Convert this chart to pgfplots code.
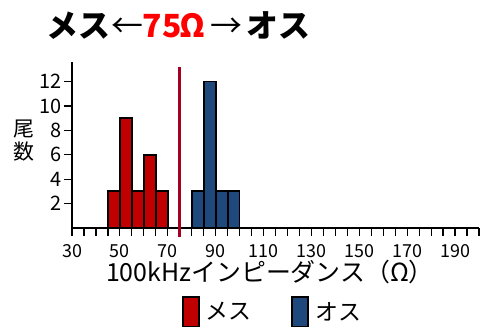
\documentclass[border=0pt]{standalone}
\usepackage{fontspec}
\setmainfont{Noto Sans CJK JP}
\usepackage{pgfplots}
\pgfplotsset{compat=1.18}
\definecolor{fem}{HTML}{C00000}
\definecolor{mal}{HTML}{1F497D}
\definecolor{marker}{HTML}{A50021}
\begin{document}
\begin{tikzpicture}
\path[use as bounding box] (0bp,0bp) rectangle (480bp,327bp);
\begin{scope}[every node/.style={inner sep=0pt, font=\fontsize{32}{32}\selectfont\bfseries}]
\node[anchor=base west] at (46bp,289bp) {メス};
\node[anchor=base, font=\fontsize{32}{32}\selectfont] at (127.5bp,289bp) {←};
\node[anchor=base, text=red] at (162bp,289bp) {75};
\node[anchor=base, text=red] at (192.5bp,289bp) {Ω};
\node[anchor=base, font=\fontsize{32}{32}\selectfont] at (226bp,289bp) {→};
\node[anchor=base west] at (246bp,289bp) {オス};
\end{scope}
\node[align=center, font=\fontsize{21}{23}\selectfont, inner sep=0] at (24bp,186bp) {尾\\数};
\node[font=\fontsize{25}{25}\selectfont, inner sep=0] at (270bp,55bp) {100kHzインピーダンス（Ω）};
\begin{axis}[
 at={(72bp,99bp)}, anchor=south west, scale only axis, width=407bp, height=166bp,
 xmin=30, xmax=200, ymin=0, ymax=13.6,
 axis x line*=bottom, axis y line*=left,
 axis line style={line width=1.2bp, black},
 xtick={30,50,...,190}, minor xtick={35,40,...,200},
 ytick={2,4,...,12},
 tick align=outside, major tick length=8bp, minor tick length=8bp,
 tick style={black, line width=1.2bp},
 /pgf/number format/assume math mode=true,
 xticklabel style={font=\fontsize{18}{18}\selectfont, anchor=base, inner sep=0pt},
 xticklabel shift=21bp,
 yticklabel style={font=\fontsize{20}{20}\selectfont, anchor=east, inner sep=0pt},
 yticklabel shift=2bp,
 clip=false,
 legend columns=2,
 legend style={at={(0.4926,-0.506)}, anchor=center, draw=none, fill=none,
   font=\fontsize{23}{23}\selectfont,
   /tikz/every even column/.append style={column sep=38bp}},
 legend cell align=left,
]
\addplot[ybar, bar width=5, bar shift=0pt, fill=fem, draw=black, line width=1.8bp, forget plot] coordinates {(47.5,3)(52.5,9)(57.5,3)(62.5,6)(67.5,3)};
\addplot[ybar, bar width=5, bar shift=0pt, fill=mal, draw=black, line width=1.8bp, forget plot] coordinates {(82.5,3)(87.5,12)(92.5,3)(97.5,3)};
\addplot[marker, line width=3bp, forget plot] coordinates {(75,-0.7) (75,13.15)};
\addlegendimage{legend image code/.code={\draw[fill=fem, draw=black, line width=1.8bp] (0bp,-15bp) rectangle (16bp,15bp);}}
\addlegendentry{\hspace{4bp}メス}
\addlegendimage{legend image code/.code={\draw[fill=mal, draw=black, line width=1.8bp] (0bp,-15bp) rectangle (16bp,15bp);}}
\addlegendentry{\hspace{4bp}オス}
\end{axis}
\end{tikzpicture}
\end{document}
